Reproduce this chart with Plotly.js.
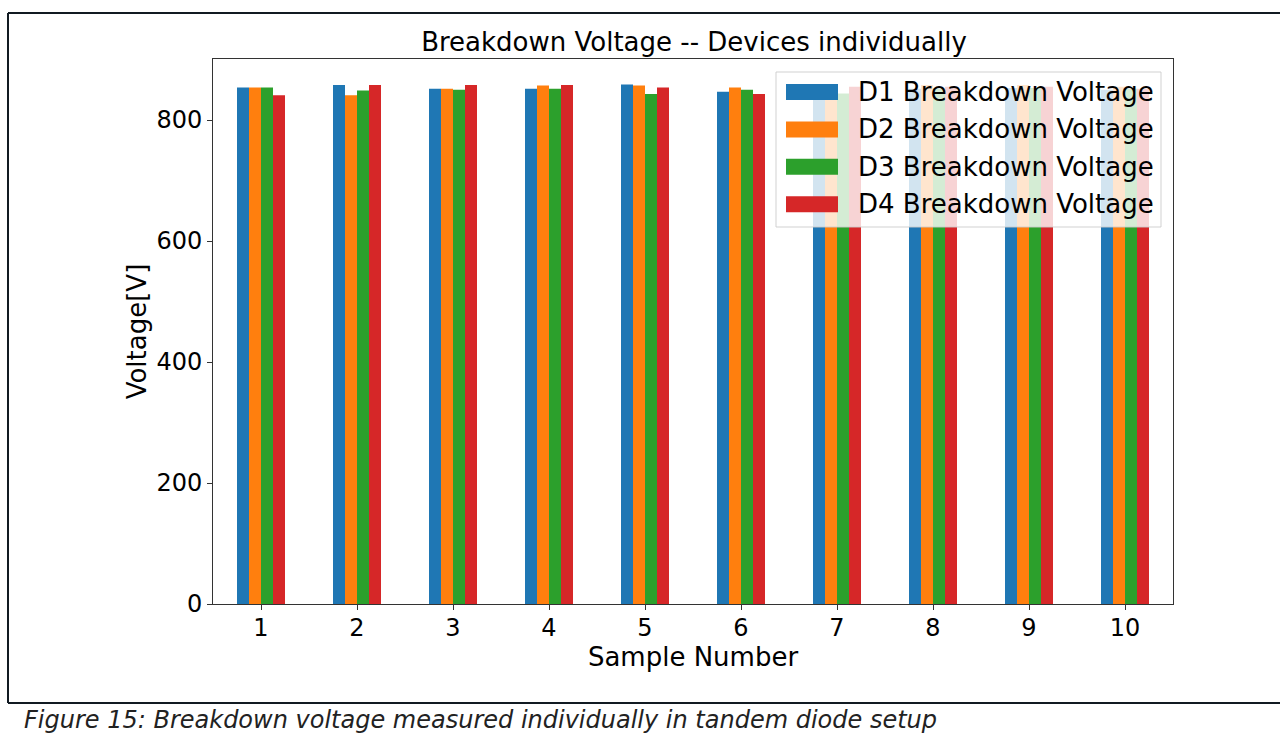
<!DOCTYPE html>
<html>
<head>
<meta charset="utf-8">
<script src="https://cdn.plot.ly/plotly-3.0.1.min.js"></script>
<style>html,body{margin:0;padding:0;background:#fff;} #chart{width:1280px;height:733px;}</style>
</head>
<body>
<div id="chart"></div>
<script>
const samples = ['1','2','3','4','5','6','7','8','9','10'];
const seriesNames = ['D1 Breakdown Voltage','D2 Breakdown Voltage','D3 Breakdown Voltage','D4 Breakdown Voltage'];
const d1 = [854, 858, 852, 852, 859, 847, 852, 852, 853, 850];
const d2 = [854, 841, 852, 857, 857, 854, 854, 858, 858, 855];
const d3 = [854, 849, 850, 852, 843, 850, 844, 852, 853, 852];
const d4 = [841, 858, 858, 858, 854, 843, 855, 855, 855, 852];
const colors = ['#1f77b4','#ff7f0e','#2ca02c','#d62728'];
const values = [d1, d2, d3, d4];
const captionText = 'Figure 15: Breakdown voltage measured individually in tandem diode setup';

const FONT = 'DejaVu Sans, sans-serif';
const traces = values.map((v, i) => ({
  type: 'bar', x: samples, y: v, name: seriesNames[i],
  marker: {color: colors[i], line: {width: 0}}, showlegend: false, hoverinfo: 'x+y+name'
}));

const L = 213, R = 1173, T = 59, B = 604;
const px = x => (x - L) / (R - L);
const py = y => (B - y) / (B - T);

const shapes = [
  {type:'line', xref:'paper', yref:'paper', x0:px(8), x1:px(1285), y0:py(13), y1:py(13), line:{color:'#111a22', width:2}},
  {type:'line', xref:'paper', yref:'paper', x0:px(8), x1:px(8), y0:py(13), y1:py(703), line:{color:'#111a22', width:2}},
  {type:'line', xref:'paper', yref:'paper', x0:px(8), x1:px(1285), y0:py(703), y1:py(703), line:{color:'#111a22', width:2}},
  {type:'rect', xref:'paper', yref:'paper', x0:px(776), x1:px(1161), y0:py(72), y1:py(227),
   fillcolor:'rgba(255,255,255,0.8)', line:{color:'rgba(204,204,204,0.9)', width:1}, layer:'above'}
];
const annotations = [
  {xref:'paper', yref:'paper', x:px(22), y:py(720), xanchor:'left', yanchor:'middle', showarrow:false,
   text:'<i>' + captionText + '</i>', font:{family:FONT, size:24, color:'#222'}}
];
seriesNames.forEach((n, i) => {
  const cy = 92 + i * 37.4;
  shapes.push({type:'rect', xref:'paper', yref:'paper', x0:px(786), x1:px(838), y0:py(cy - 8), y1:py(cy + 8),
    fillcolor: colors[i], line:{width:0}, layer:'above'});
  annotations.push({xref:'paper', yref:'paper', x:px(856), y:py(cy), xanchor:'left', yanchor:'middle', showarrow:false,
    text: n, font:{family:FONT, size:26, color:'#000'}});
});

const layout = {
  width: 1280, height: 733,
  margin: {l: L, r: 1280 - R, t: T, b: 733 - B, pad: 0},
  paper_bgcolor: '#fff', plot_bgcolor: '#fff',
  font: {family: FONT, size: 24, color: '#000'},
  title: {text: 'Breakdown Voltage -- Devices individually', x: px(694), xref:'paper', xanchor:'center',
          y: 1 - 42/733, yanchor:'middle', font: {family: FONT, size: 26, color:'#000'}},
  barmode: 'group', bargap: 0.5, bargroupgap: 0,
  showlegend: false,
  xaxis: {type:'category', range: [-0.5, 9.5], showgrid:false, zeroline:false,
          showline:true, mirror:true, linecolor:'#333', linewidth:1,
          ticks:'outside', ticklen:5, tickcolor:'#333', tickfont:{size:24}, ticklabelstandoff: -3,
          title:{text:'Sample Number', font:{size:26}, standoff: 2}},
  yaxis: {range: [0, 901], dtick: 200, tick0: 0, showgrid:false, zeroline:false,
          showline:true, mirror:true, linecolor:'#333', linewidth:1,
          ticks:'outside', ticklen:5, tickcolor:'#333', tickfont:{size:24},
          title:{text:'Voltage[V]', font:{size:26}, standoff: 2}},
  shapes: shapes, annotations: annotations
};
Plotly.newPlot('chart', traces, layout, {displayModeBar:false, staticPlot:true});
</script>
</body>
</html>
